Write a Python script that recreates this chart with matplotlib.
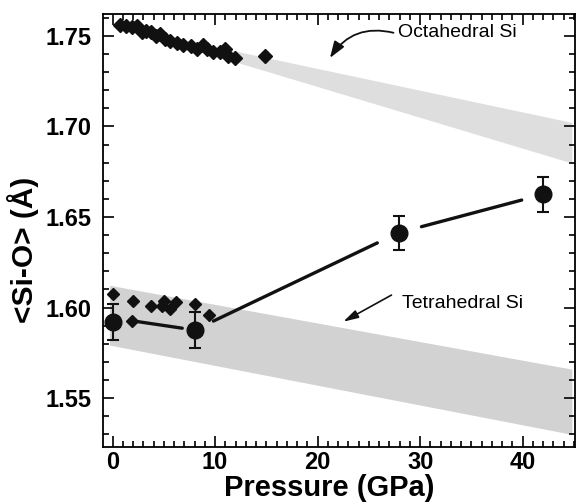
import numpy as np
import matplotlib
matplotlib.use("Agg")
import matplotlib.pyplot as plt
from matplotlib.ticker import MultipleLocator

plt.rcParams['font.family'] = ['Liberation Sans', 'DejaVu Sans']

# octahedral Si diamonds (small symbols)
octP = [0.7, 1.3, 1.9, 2.4, 2.9, 3.3, 3.7, 4.2, 4.6, 5.1, 5.6, 6.3, 6.9, 7.6, 8.2, 8.8, 9.2,
        9.8, 10.5, 11.0, 11.3, 11.9, 14.9]
octD = [1.756, 1.7555, 1.755, 1.7555, 1.752, 1.7525, 1.752, 1.750, 1.751, 1.748, 1.747, 1.746,
        1.745, 1.7445, 1.743, 1.745, 1.743, 1.741, 1.741, 1.743, 1.7386, 1.738, 1.7386]

# tetrahedral Si diamonds
tetP = [0.0, 2.0, 3.7, 5.0, 4.8, 5.6, 6.2, 8.0, 9.4]
tetD = [1.6075, 1.6036, 1.601, 1.6036, 1.601, 1.599, 1.6032, 1.602, 1.596]

# measured <Si-O> with error bars
measP = [0.0, 8.0, 27.9, 42.0]
measD = [1.592, 1.5876, 1.6413, 1.6625]
measErr = [0.010, 0.0098, 0.0095, 0.0097]

# trend line: small diamond then the measured points
lineP = [1.9, 8.0, 27.9, 42.0]
lineD = [1.5927, 1.5876, 1.6413, 1.6625]
shrinkStart = [3, 15, 17]
shrinkEnd = [9, 17, 16]

# shaded bands: (pressure, lower, upper)
octBandP = [0.0, 44.8]
octBandLo = [1.756, 1.6798]
octBandHi = [1.756, 1.7022]
tetBandP = [-0.3, 44.8]
tetBandLo = [1.5793, 1.5300]
tetBandHi = [1.6123, 1.5660]

fig = plt.figure(figsize=(5.79, 5.04), dpi=100)
ax = fig.add_axes([0.178, 0.113, 0.815, 0.859])

ax.fill_between(octBandP, octBandLo, octBandHi, color='#dedede', lw=0, zorder=1)
ax.fill_between(tetBandP, tetBandLo, tetBandHi, color='#d2d2d2', lw=0, zorder=1)

# connecting line segments with gaps at the symbols
for i in range(len(lineP) - 1):
    ax.annotate('', xy=(lineP[i + 1], lineD[i + 1]), xytext=(lineP[i], lineD[i]),
                arrowprops=dict(arrowstyle='-', lw=2.4, color='#111111',
                                shrinkA=shrinkStart[i], shrinkB=shrinkEnd[i]), zorder=2)

ax.plot(octP, octD, 'D', color='#111111', ms=7.5, zorder=3)
ax.plot(tetP, tetD, 'D', color='#111111', ms=6.5, zorder=3)
ax.plot(lineP[:1], lineD[:1], 'D', color='#111111', ms=6, zorder=3)
ax.errorbar(measP, measD, yerr=measErr, fmt='o', color='#111111', ms=12,
            elinewidth=1.5, capsize=4, capthick=1.5, zorder=4)

# labels with arrows
ax.text(27.8, 1.7517, 'Octahedral Si', fontsize=14, va='center', ha='left')
ax.annotate('', xy=(21.2, 1.7378), xytext=(27.4, 1.7517),
            arrowprops=dict(arrowstyle='-|>,head_length=1.0,head_width=0.35', lw=1.3,
                            color='#111111', connectionstyle='arc3,rad=0.35',
                            shrinkA=0, shrinkB=0))
ax.text(28.2, 1.6025, 'Tetrahedral Si', fontsize=14, va='center', ha='left')
ax.annotate('', xy=(22.5, 1.5922), xytext=(27.2, 1.6069),
            arrowprops=dict(arrowstyle='-|>,head_length=0.9,head_width=0.25', lw=1.2,
                            color='#111111', shrinkA=0, shrinkB=0))

ax.set_xlim(-0.93, 45.1)
ax.set_ylim(1.523, 1.762)
ax.xaxis.set_major_locator(MultipleLocator(10))
ax.xaxis.set_minor_locator(MultipleLocator(1))
ax.yaxis.set_major_locator(MultipleLocator(0.05))
ax.yaxis.set_minor_locator(MultipleLocator(0.01))
ax.yaxis.set_major_formatter(plt.FormatStrFormatter('%.2f'))
ax.tick_params(which='both', direction='in', top=True, right=True, width=1.2)
ax.tick_params(which='major', length=8, labelsize=17)
ax.tick_params(axis='y', which='major', pad=8)
ax.tick_params(axis='x', which='major', pad=3)
ax.tick_params(which='minor', length=4)
for lab in ax.get_xticklabels() + ax.get_yticklabels():
    lab.set_fontweight('bold')
for s in ax.spines.values():
    s.set_linewidth(1.3)

ax.set_xlabel('Pressure (GPa)', fontsize=21, fontweight='bold')
ax.set_ylabel('<Si-O> (Å)', fontsize=21.5, fontweight='bold')
ax.xaxis.set_label_coords(0.48, -0.062)
ax.yaxis.set_label_coords(-0.135, 0.455)

fig.savefig('out.png', dpi=100)
